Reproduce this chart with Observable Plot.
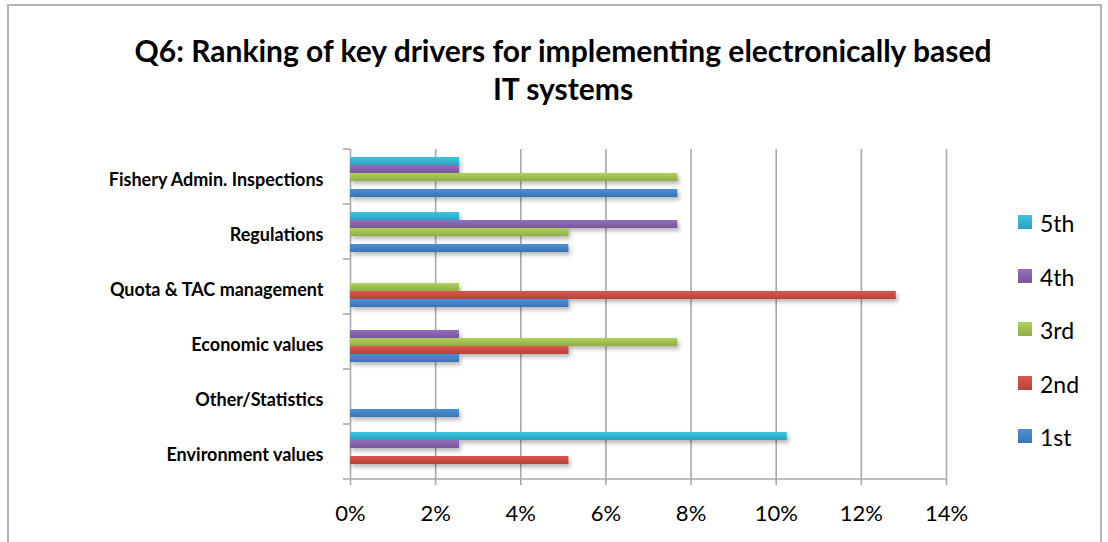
<!DOCTYPE html>
<html>
<head>
<meta charset="utf-8">
<script src="https://cdn.jsdelivr.net/npm/d3@7"></script>
<script src="https://cdn.jsdelivr.net/npm/@observablehq/plot@0.6"></script>
<style>
  body { margin: 0; background: #fff; font-family: Lato, "Open Sans", sans-serif; }
  #wrap { position: relative; width: 1108px; height: 542px; overflow: hidden; background: #fff; }
  #border { position: absolute; left: 7px; top: 4px; width: 1095px; height: 600px; border: 2px solid #b5b5b5; box-sizing: border-box; }
  #title { position: absolute; left: 0; width: 1126px; top: 31px; text-align: center; font-weight: bold; font-size: 30px; line-height: 38px; color: #000; }
  #chart { position: absolute; left: 0; top: 120px; }
  #legend { position: absolute; left: 0; top: 0; }
  .lg-item { position: absolute; left: 1018px; height: 20px; font-size: 23px; line-height: 20px; color: #000; white-space: nowrap; }
  .lg-sw { position: absolute; left: 0; top: 2px; width: 14px; height: 14px; }
  .lg-tx { position: absolute; left: 22px; top: 0; }
</style>
</head>
<body>
<svg width="0" height="0" style="position:absolute">
  <defs id="grads"></defs>
</svg>
<div id="wrap">
  <div id="border"></div>
  <div id="title">Q6: Ranking of key drivers for implementing electronically based<br>IT systems</div>
  <div id="chart"></div>
  <div id="legend"></div>
</div>
<script>
// ---- data ----
const categories = [
  "Fishery Admin. Inspections",
  "Regulations",
  "Quota & TAC management",
  "Economic values",
  "Other/Statistics",
  "Environment values"
];
const ranks = ["5th", "4th", "3rd", "2nd", "1st"]; // top to bottom within a group
const values1st = [7.69, 5.13, 5.13, 2.56, 2.56, 0];
const values2nd = [0, 0, 12.82, 5.13, 0, 5.13];
const values3rd = [7.69, 5.13, 2.56, 7.69, 0, 0];
const values4th = [2.56, 7.69, 0, 2.56, 0, 2.56];
const values5th = [2.56, 2.56, 0, 0, 0, 10.26];
const xTicks = [0, 2, 4, 6, 8, 10, 12, 14];
const rankColors = {
  "1st": ["#4b90d8", "#3a74b4"],
  "2nd": ["#dc564c", "#b6433b"],
  "3rd": ["#b1d15b", "#91ad46"],
  "4th": ["#936fbb", "#775799"],
  "5th": ["#3fc4e0", "#2aa3bf"]
};

const seriesValues = {"1st": values1st, "2nd": values2nd, "3rd": values3rd, "4th": values4th, "5th": values5th};
const rows = [];
categories.forEach((c, i) => {
  ranks.forEach(r => rows.push({category: c, rank: r, value: seriesValues[r][i]}));
});

// gradients
const defs = d3.select("#grads");
ranks.forEach(r => {
  const g = defs.append("linearGradient").attr("id", "grad" + r).attr("x1", 0).attr("y1", 0).attr("x2", 0).attr("y2", 1);
  g.append("stop").attr("offset", "0%").attr("stop-color", rankColors[r][0]);
  g.append("stop").attr("offset", "100%").attr("stop-color", rankColors[r][1]);
});

const gridColor = "#a9a9a9";

const chart = Plot.plot({
  width: 1108,
  height: 422,
  marginLeft: 350,
  marginRight: 162,
  marginTop: 27,
  marginBottom: 61,
  style: {fontFamily: "Lato, sans-serif", fontSize: "22px", color: "#000", background: "transparent"},
  x: {domain: [0, 14], axis: null},
  y: {domain: ranks, axis: null, paddingInner: 0, paddingOuter: 0.74},
  fy: {domain: categories, axis: null, padding: 0},
  marks: [
    Plot.ruleX(xTicks, {stroke: gridColor, strokeWidth: 1.6}),
    Plot.barX(rows.filter(d => d.value > 0), {
      x: "value",
      y: "rank",
      fy: "category",
      fill: d => `url(#grad${d.rank})`
    }),
    Plot.text(categories, {
      fy: d => d,
      text: d => d,
      frameAnchor: "left",
      textAnchor: "end",
      dx: -27,
      dy: 3,
      fontWeight: "bold",
      fontSize: 18
    }),
    Plot.axisX(xTicks, {
      tickFormat: d => d + "%",
      tickSize: 6,
      tickPadding: 20,
      stroke: gridColor,
      strokeWidth: 1.6,
      fill: "#000",
      fontSize: 22,
      label: null
    })
  ]
});
document.getElementById("chart").appendChild(chart);

// bar shadow styling
d3.select(chart).selectAll('g[aria-label="bar"]').style("filter", "drop-shadow(2px 3px 2px rgba(0,0,0,0.28))");

// axis line and category boundary ticks using Plot's scales
const sx = chart.scale("x");
const sfy = chart.scale("fy");
const x0 = sx.apply(0), x1 = sx.apply(14);
const svg = d3.select(chart);
const axisG = svg.append("g").attr("stroke", gridColor).attr("stroke-width", 1.6);
const bottom = sfy.apply(categories[categories.length - 1]) + sfy.bandwidth;
axisG.append("line").attr("x1", x0 - 7).attr("x2", x1 + 0.8).attr("y1", bottom).attr("y2", bottom);
categories.forEach(c => {
  const yy = sfy.apply(c);
  axisG.append("line").attr("x1", x0 - 7).attr("x2", x0).attr("y1", yy).attr("y2", yy);
});

// legend (top to bottom: 5th ... 1st)
const legendCenters = [224, 277.5, 331, 384.5, 438];
const lg = d3.select("#legend");
ranks.forEach((r, i) => {
  const item = lg.append("div").attr("class", "lg-item").style("top", (legendCenters[i] - 11) + "px");
  item.append("div").attr("class", "lg-sw").style("background", `linear-gradient(${rankColors[r][0]}, ${rankColors[r][1]})`);
  item.append("div").attr("class", "lg-tx").text(r);
});
</script>
</body>
</html>
